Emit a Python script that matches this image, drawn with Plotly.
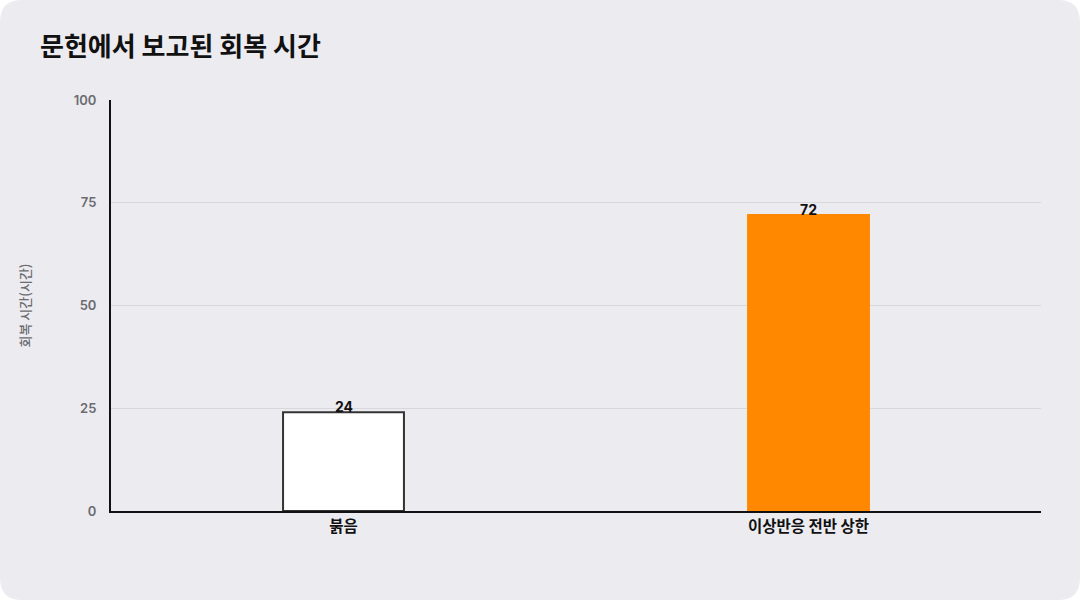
import plotly.graph_objects as go

categories = ["붉음", "이상반응 전반 상한"]
values = [24, 72]
bar_colors = ["#FFFFFF", "#FF8800"]
line_colors = ["#333333", "#FF8800"]
y_ticks = [0, 25, 50, 75, 100]

W, H = 1080, 600
L, R, T, B = 111, 39, 100, 89
pw, ph = W - L - R, H - T - B

def fx(px):
    return (px - L) / pw

def fy(py):
    return (H - B - py) / ph

fig = go.Figure()
fig.add_trace(go.Bar(
    x=categories, y=values, width=0.26,
    marker=dict(color=bar_colors, line=dict(color=line_colors, width=2)),
    hoverinfo="skip",
))

for c, v in zip(categories, values):
    fig.add_annotation(x=c, y=v, text=f"<b>{v}</b>", showarrow=False,
                       yanchor="bottom", yshift=-5,
                       font=dict(size=14, color="#111111"))

# rounded card background
r = 22
x0, x1, y0, y1 = 0, W, 0, H
path = (f"M {fx(x0 + r)},{fy(y0)} L {fx(x1 - r)},{fy(y0)} "
        f"Q {fx(x1)},{fy(y0)} {fx(x1)},{fy(y0 + r)} "
        f"L {fx(x1)},{fy(y1 - r)} Q {fx(x1)},{fy(y1)} {fx(x1 - r)},{fy(y1)} "
        f"L {fx(x0 + r)},{fy(y1)} Q {fx(x0)},{fy(y1)} {fx(x0)},{fy(y1 - r)} "
        f"L {fx(x0)},{fy(y0 + r)} Q {fx(x0)},{fy(y0)} {fx(x0 + r)},{fy(y0)} Z")
fig.add_shape(type="path", path=path, xref="paper", yref="paper",
              fillcolor="#ECEBF0", line=dict(width=0), layer="below")

fig.update_layout(
    width=W, height=H,
    margin=dict(l=L, r=R, t=T, b=B),
    paper_bgcolor="#FFFFFF",
    plot_bgcolor="rgba(0,0,0,0)",
    font=dict(family="Inter, 'Noto Sans CJK KR', sans-serif"),
    showlegend=False,
    title=dict(text="문헌에서 보고된 회복 시간", x=40 / W, xanchor="left",
               y=1 - 47 / H, yanchor="middle",
               font=dict(size=26, color="#111111", weight=700,
                         family="'Noto Sans CJK KR', Inter, sans-serif")),
    bargap=0.74,
)
fig.update_xaxes(
    showline=True, linecolor="#111111", linewidth=2,
    tickfont=dict(size=15.5, color="#111111", weight=700,
                  family="'Noto Sans CJK KR', sans-serif"),
    ticks="", showgrid=False,
)
fig.update_yaxes(
    range=[0, 100], tickvals=y_ticks,
    showline=True, linecolor="#111111", linewidth=2,
    gridcolor="#D8D7DC", gridwidth=1, zeroline=False,
    tickfont=dict(size=13, color="#6B6B70", weight=600),
    ticks="", ticklabelstandoff=10,
    title=dict(text="회복 시간(시간)", standoff=40,
               font=dict(size=13, color="#6B6B70", weight=500,
                         family="'Noto Sans CJK KR', sans-serif")),
)

fig.write_html("out.html", config={"displayModeBar": False},
               post_script="document.body.style.margin='0';document.body.style.padding='0';")
